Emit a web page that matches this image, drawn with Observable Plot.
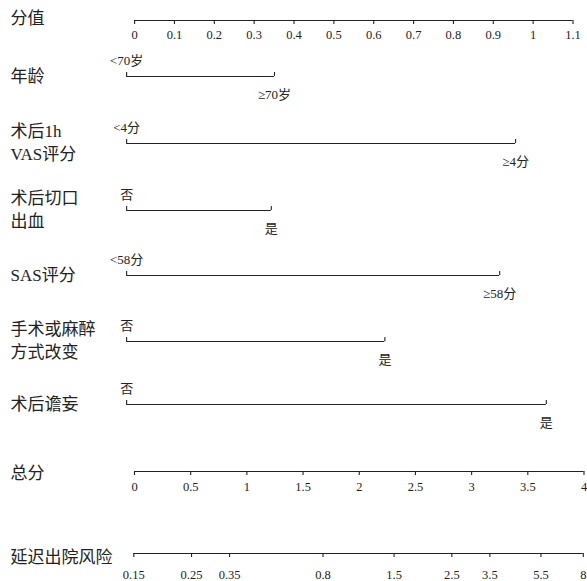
<!DOCTYPE html>
<html><head><meta charset="utf-8">
<script src="https://cdn.jsdelivr.net/npm/d3@7"></script>
<script src="https://cdn.jsdelivr.net/npm/@observablehq/plot@0.6"></script>
<style>
html,body{margin:0;padding:0;background:#fff;}
#chart{position:relative;width:587px;height:581px;overflow:hidden;background:#fff;}
#chart svg{position:absolute;left:0;}
</style></head><body><div id="chart"></div>
<script>
// ---- data ----
const pointTicks = [0, 0.1, 0.2, 0.3, 0.4, 0.5, 0.6, 0.7, 0.8, 0.9, 1, 1.1];
const totalTicks = [0, 0.5, 1, 1.5, 2, 2.5, 3, 3.5, 4];
const riskTicks = [0.15, 0.25, 0.35, 0.8, 1.5, 2.5, 3.5, 5.5, 8];
const variables = ["年龄", "术后1h\nVAS评分", "术后切口\n出血", "SAS评分", "手术或麻醉\n方式改变", "术后谵妄"];
const lowLabels = ["<70岁", "<4分", "否", "<58分", "否", "否"];
const highLabels = ["≥70岁", "≥4分", "是", "≥58分", "是", "是"];
const lowPoints = [-0.02, -0.02, -0.02, -0.02, -0.02, -0.02];
const highPoints = [0.351, 0.956, 0.343, 0.916, 0.628, 1.033];

// ---- layout / style ----
const W = 587;
const FONT = '"Liberation Serif", "Noto Sans CJK SC", serif';
const INK = "#222";
const rowLineY = [76, 143, 210, 275, 341, 404];
const chart = document.getElementById("chart");
const style = {fontFamily: FONT, fontSize: "12px", color: INK, background: "transparent", overflow: "visible"};
function place(svg, top) { svg.style.top = top + "px"; chart.appendChild(svg); }

function axisRow({title, ticks, type, marginLeft, marginRight, lineY, labelOffset, titleDy}) {
  const svg = Plot.plot({
    width: W, height: 50, marginTop: 20, marginBottom: 26, marginLeft, marginRight, style,
    x: {type, domain: [ticks[0], ticks[ticks.length - 1]], axis: null},
    y: {domain: [0, 1], axis: null},
    marks: [
      Plot.ruleY([ticks], {x1: d => d[0], x2: d => d[d.length - 1], y: () => 1, stroke: INK, strokeWidth: 1.1}),
      Plot.tickX(ticks, {x: d => d, stroke: INK, strokeWidth: 1.1}),
      Plot.text(ticks, {x: d => d, text: d => String(d), frameAnchor: "top", dy: labelOffset, lineAnchor: "middle", fill: INK, fontSize: 12.5}),
      Plot.text([title], {frameAnchor: "left", dx: 10 - marginLeft, dy: titleDy, textAnchor: "start", lineAnchor: "middle", fontSize: 17, fill: INK})
    ]
  });
  place(svg, lineY - 20);
}

axisRow({title: "分值", ticks: pointTicks, type: "linear", marginLeft: 134.1, marginRight: 14.5, lineY: 20, labelOffset: 14, titleDy: -4});

variables.forEach((name, i) => {
  const svg = Plot.plot({
    width: W, height: 50, marginTop: 21, marginBottom: 25, marginLeft: 134.1, marginRight: 14.5, style,
    x: {domain: [pointTicks[0], pointTicks[pointTicks.length - 1]], axis: null},
    y: {domain: [0, 1], axis: null},
    marks: [
      Plot.ruleY([i], {x1: j => lowPoints[j], x2: j => highPoints[j], y: () => 0, stroke: INK, strokeWidth: 1.1}),
      Plot.tickX([lowPoints[i], highPoints[i]], {x: d => d, stroke: INK, strokeWidth: 1.1}),
      Plot.text([lowLabels[i]], {x: () => lowPoints[i], frameAnchor: "bottom", dy: -16, lineAnchor: "middle", fill: INK, fontSize: 13}),
      Plot.text([highLabels[i]], {x: () => highPoints[i], frameAnchor: "bottom", dy: 18, lineAnchor: "middle", fill: INK, fontSize: 13}),
      Plot.text([name], {frameAnchor: "left", dx: 10 - 134.1, textAnchor: "start", lineAnchor: "middle", fontSize: 17, lineHeight: 1.35, fill: INK})
    ]
  });
  place(svg, rowLineY[i] - 25);
});

axisRow({title: "总分", ticks: totalTicks, type: "linear", marginLeft: 134, marginRight: 3.5, lineY: 471, labelOffset: 15, titleDy: 0});
axisRow({title: "延迟出院风险", ticks: riskTicks, type: "log", marginLeft: 133.3, marginRight: 4.2, lineY: 553, labelOffset: 21, titleDy: 2});
</script></body></html>
